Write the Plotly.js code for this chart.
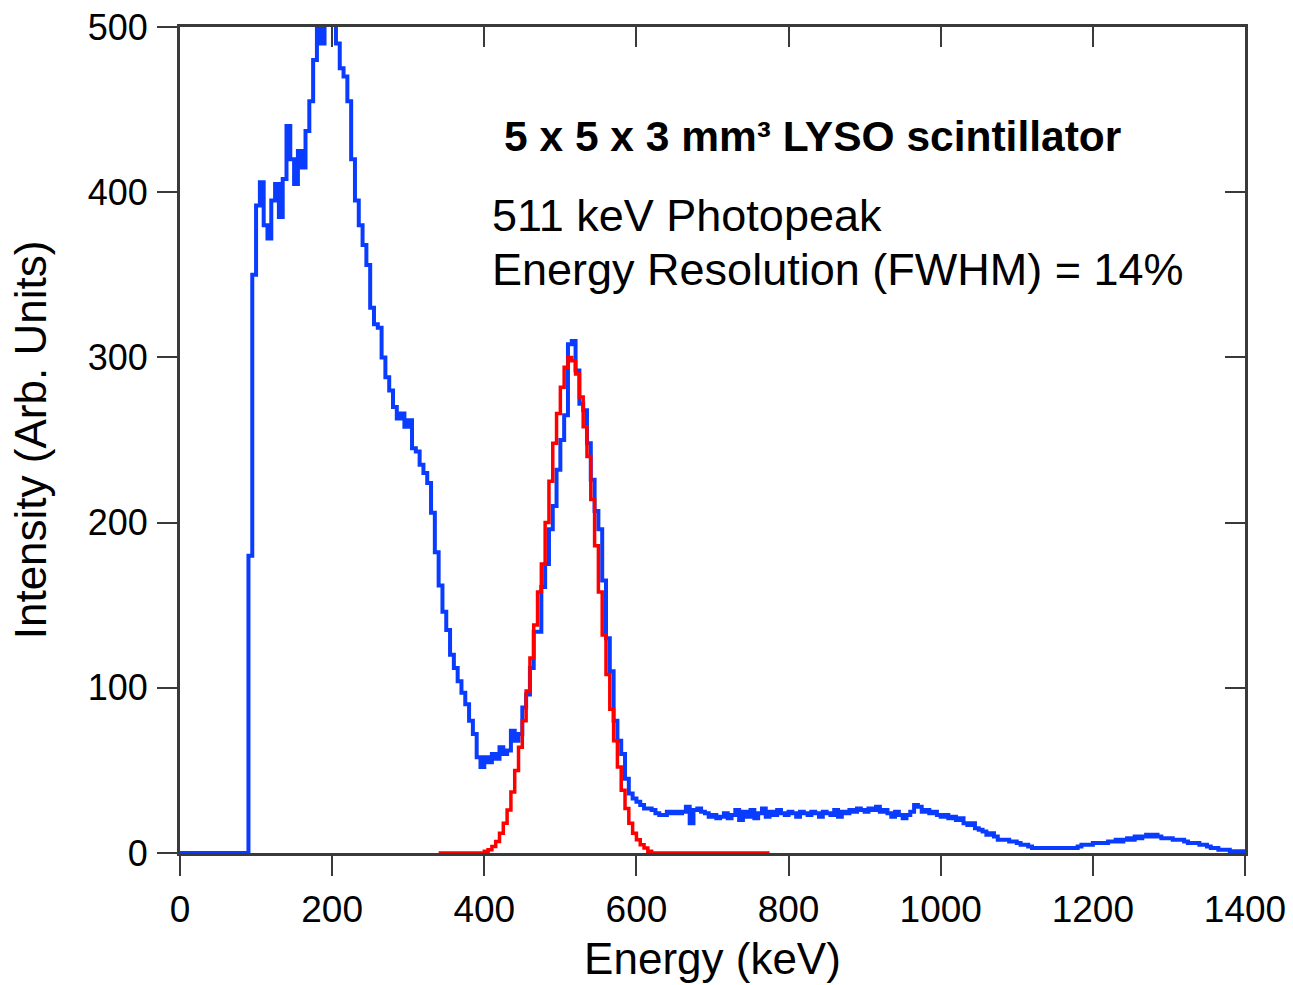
<!DOCTYPE html>
<html><head><meta charset="utf-8">
<script src="https://cdn.plot.ly/plotly-3.0.1.min.js"></script>
<style>html,body{margin:0;padding:0;background:#fff}#chart{width:1293px;height:985px}</style>
</head><body><div id="chart"></div>
<script>
// Histogram bin width (keV)
const binWidth = 5;

// Measured LYSO spectrum, 5 keV bins starting at 0 keV (one row = 100 keV)
const spectrumStart = 0;
const spectrumCounts = [
  0,0,0,0,0,0,0,0,0,0,0,0,0,0,0,0,0,0,180,350,
  392,406,380,372,395,405,385,408,440,420,405,425,415,437,455,480,500,490,540,560,
  530,490,475,470,455,420,395,380,368,356,330,320,318,300,288,280,270,263,266,258,
  262,245,243,235,230,224,206,182,162,146,135,120,112,104,97,90,80,72,58,52,
  58,55,60,57,64,60,62,74,68,72,88,96,112,134,134,161,175,196,210,232,
  250,265,308,310,292,272,268,248,226,207,196,165,130,110,80,68,60,45,36,33,
  31,29,27,27,26,24,23,23,25,24,25,24,25,28,18,26,27,25,24,22,
  23,21,22,24,21,23,26,20,25,22,26,21,24,27,22,25,23,26,24,23,
  25,24,22,25,24,23,25,24,22,25,24,23,26,22,25,24,26,25,27,26,
  25,27,26,28,25,26,24,22,25,23,21,23,25,29,28,25,26,24,25,23,
  22,23,21,22,20,21,18,17,18,15,14,13,11,12,10,8,8,8,7,7,
  6,5,5,4,3,3,3,3,3,3,3,3,3,3,3,3,4,5,5,5,
  6,6,6,6,7,7,8,7,8,9,8,10,9,10,11,10,11,10,9,9,
  9,8,8,8,7,6,6,6,5,5,4,3,3,2,2,2,1,1,1,1
];

// Gaussian photopeak fit, 5 keV bins starting at 340 keV
const fitStart = 340;
const fitCounts = [
  0,0,0,0,0,0,0,0,0,0,0,0,
  1,2,4,7,12,18,26,37,50,64,
  80,98,118,138,158,175,200,225,248,266,
  282,294,300,298,290,276,258,240,214,186,
  158,132,108,87,68,52,38,27,18,12,
  8,5,3,1,
  0,0,0,0,0,0,0,0,0,0,0,0,0,0,0,0,0,0,0,0,0,0,0,0,0,0,0,0,0,0,0
];

// Axis ticks
const xTicks = [0,200,400,600,800,1000,1200,1400];
const yTicks = [0,100,200,300,400,500];

// Annotation texts
const titleText = '5 x 5 x 3 mm³ LYSO scintillator';
const line1Text = '511 keV Photopeak';
const line2Text = 'Energy Resolution (FWHM) = 14%';

function steps(start, counts) {
  const x = [], y = [];
  counts.forEach((c, i) => { x.push(start + i * binWidth); y.push(c); });
  x.push(start + counts.length * binWidth);
  y.push(counts[counts.length - 1]);
  return {x, y};
}

const s = steps(spectrumStart, spectrumCounts);
const f = steps(fitStart, fitCounts);

const FONT = 'Liberation Sans, Arial, sans-serif';
const AX = '#3a3a3a';

const traces = [
  {x: s.x, y: s.y, type: 'scatter', mode: 'lines', line: {shape: 'hv', color: '#0a3cff', width: 4}, hoverinfo: 'skip'},
  {x: f.x, y: f.y, type: 'scatter', mode: 'lines', line: {shape: 'hv', color: '#ff0000', width: 3.5}, hoverinfo: 'skip'},
  {x: [0], y: [0], xaxis: 'x2', yaxis: 'y2', type: 'scatter', mode: 'lines', line: {width: 0}, hoverinfo: 'skip', showlegend: false}
];

const layout = {
  width: 1293, height: 985,
  margin: {l: 180, r: 48, t: 27, b: 132},
  paper_bgcolor: '#ffffff', plot_bgcolor: '#ffffff',
  showlegend: false,
  font: {family: FONT, color: '#000'},
  xaxis: {
    range: [0, 1400], tickvals: xTicks, ticktext: xTicks.map(String),
    ticks: 'outside', ticklen: 20, tickwidth: 2, tickcolor: AX,
    showline: true, linecolor: AX, linewidth: 3, showgrid: false, zeroline: false,
    tickfont: {family: FONT, size: 37, color: '#000'}, ticklabelstandoff: 2,
    title: {text: 'Energy (keV)', font: {family: FONT, size: 44, color: '#000'}, standoff: 14},
    layer: 'below traces', fixedrange: true
  },
  yaxis: {
    range: [0, 500], tickvals: yTicks, ticktext: yTicks.map(String),
    ticks: 'outside', ticklen: 20, tickwidth: 2, tickcolor: AX,
    showline: true, linecolor: AX, linewidth: 3, showgrid: false, zeroline: false,
    tickfont: {family: FONT, size: 36, color: '#000'}, ticklabelstandoff: 2,
    title: {text: 'Intensity (Arb. Units)', font: {family: FONT, size: 44, color: '#000'}, standoff: 28},
    layer: 'below traces', fixedrange: true
  },
  xaxis2: {
    overlaying: 'x', side: 'top', anchor: 'y2', range: [0, 1400], tickvals: xTicks,
    ticks: 'inside', ticklen: 20, tickwidth: 2, tickcolor: AX, showticklabels: false,
    showline: true, linecolor: AX, linewidth: 3, showgrid: false, zeroline: false, fixedrange: true
  },
  yaxis2: {
    overlaying: 'y', side: 'right', anchor: 'x2', range: [0, 500], tickvals: yTicks,
    ticks: 'inside', ticklen: 20, tickwidth: 2, tickcolor: AX, showticklabels: false,
    showline: true, linecolor: AX, linewidth: 3, showgrid: false, zeroline: false, fixedrange: true
  },
  annotations: [
    {text: '<b>' + titleText + '</b>', xref: 'paper', yref: 'paper', x: 0.302, y: 0.867,
     xanchor: 'left', yanchor: 'middle', showarrow: false, font: {family: FONT, size: 42.5, color: '#000'}},
    {text: line1Text, xref: 'paper', yref: 'paper', x: 0.291, y: 0.772,
     xanchor: 'left', yanchor: 'middle', showarrow: false, font: {family: FONT, size: 45, color: '#000'}},
    {text: line2Text, xref: 'paper', yref: 'paper', x: 0.291, y: 0.707,
     xanchor: 'left', yanchor: 'middle', showarrow: false, font: {family: FONT, size: 45, color: '#000'}}
  ]
};

Plotly.newPlot('chart', traces, layout, {displayModeBar: false, staticPlot: true});
</script>
</body></html>
